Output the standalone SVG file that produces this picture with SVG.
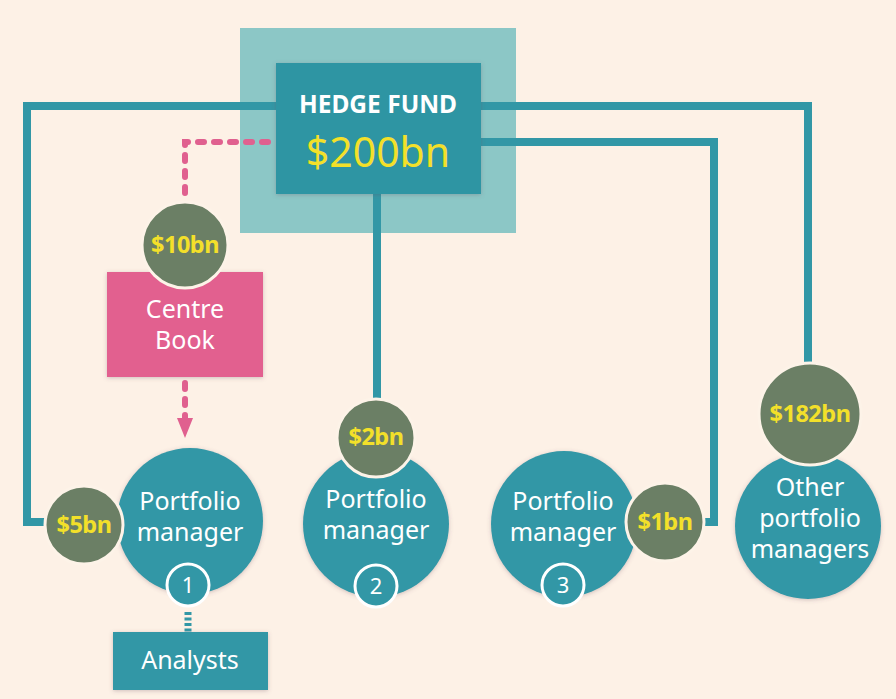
<svg xmlns="http://www.w3.org/2000/svg" width="896" height="699" viewBox="0 0 896 699">
<defs>
<style>
.txt{font-family:"Noto Sans","Liberation Sans",sans-serif;fill:#ffffff;text-anchor:middle}
.pm{font-size:25px}
.money{font-family:"Noto Sans","Liberation Sans",sans-serif;font-weight:bold;fill:#f3e02a;text-anchor:middle;font-size:23.5px;letter-spacing:-0.5px}
.teal{fill:#3297a6}
.olive{fill:#6b7f65;stroke:#fdf3e8;stroke-width:3}
.num{fill:#3297a6;stroke:#ffffff;stroke-width:3}
.line{fill:none;stroke:#3297a6;stroke-width:8}
.dash{fill:none;stroke:#e0608f;stroke-width:6;stroke-linecap:round;stroke-dasharray:6 10}
</style>
<filter id="sh" x="-20%" y="-20%" width="140%" height="140%">
<feDropShadow dx="0" dy="1" stdDeviation="2" flood-color="#6a4a5a" flood-opacity="0.3"/>
</filter>
</defs>
<rect width="896" height="699" fill="#fdf1e6"/>

<g id="hedge-fund-frame">
<rect x="240" y="28" width="276" height="205" fill="#8cc7c6"/>
</g>

<g id="connectors">
<polyline class="line" points="280,106 27,106 27,522 50,522"/>
<polyline class="line" points="478,106 808,106 808,365"/>
<polyline class="line" points="478,142 714,142 714,522 700,522"/>
<line class="line" x1="377" y1="190" x2="377" y2="405"/>
<polyline class="dash" points="268,142 185,142 185,200"/>
<line class="dash" x1="185" y1="383" x2="185" y2="418" stroke-dasharray="7 9"/>
<path d="M177,418 L193,418 L185,438 Z" fill="#e0608f"/>
<line x1="188" y1="612" x2="188" y2="632" stroke="#3297a6" stroke-width="7" stroke-dasharray="3 2.5"/>
</g>

<g id="hedge-fund">
<rect x="276" y="63" width="205" height="131" fill="#2f95a3" filter="url(#sh)"/>
<text class="txt" x="378" y="113" font-size="24.5" font-weight="bold">HEDGE FUND</text>
<text class="txt" x="378" y="167" font-size="41" style="fill:#f3e02a">$200bn</text>
</g>

<g id="centre-book">
<rect x="107" y="272" width="156" height="105" fill="#e2608f" filter="url(#sh)"/>
<text class="txt pm" x="185" y="318">Centre</text>
<text class="txt pm" x="185" y="349">Book</text>
<circle class="olive" cx="185" cy="245" r="43"/>
<text class="money" x="185" y="253">$10bn</text>
</g>

<g id="pm1">
<circle class="teal" cx="190" cy="521" r="73" filter="url(#sh)"/>
<text class="txt pm" x="190" y="510">Portfolio</text>
<text class="txt pm" x="190" y="541">manager</text>
<circle class="num" cx="188" cy="585" r="21"/>
<text class="txt" x="188" y="593" font-size="22">1</text>
<circle class="olive" cx="84" cy="525" r="39"/>
<text class="money" x="84" y="533">$5bn</text>
</g>

<g id="analysts">
<rect x="113" y="632" width="155" height="58" fill="#3297a6" filter="url(#sh)"/>
<text class="txt pm" x="190" y="669">Analysts</text>
</g>

<g id="pm2">
<circle class="teal" cx="376" cy="524" r="73" filter="url(#sh)"/>
<text class="txt pm" x="376" y="508">Portfolio</text>
<text class="txt pm" x="376" y="539">manager</text>
<circle class="num" cx="376" cy="586" r="21"/>
<text class="txt" x="376" y="594" font-size="22">2</text>
<circle class="olive" cx="376" cy="438" r="39"/>
<text class="money" x="376" y="445">$2bn</text>
</g>

<g id="pm3">
<circle class="teal" cx="564" cy="524" r="73" filter="url(#sh)"/>
<text class="txt pm" x="563" y="510">Portfolio</text>
<text class="txt pm" x="563" y="541">manager</text>
<circle class="num" cx="563" cy="585" r="21"/>
<text class="txt" x="563" y="593" font-size="22">3</text>
<circle class="olive" cx="665" cy="522" r="39"/>
<text class="money" x="665" y="530">$1bn</text>
</g>

<g id="other-pms">
<circle class="teal" cx="808" cy="526" r="73" filter="url(#sh)"/>
<text class="txt pm" x="810" y="496">Other</text>
<text class="txt pm" x="810" y="527">portfolio</text>
<text class="txt pm" x="810" y="558">managers</text>
<circle class="olive" cx="810" cy="414" r="51"/>
<text class="money" x="810" y="422">$182bn</text>
</g>
</svg>
